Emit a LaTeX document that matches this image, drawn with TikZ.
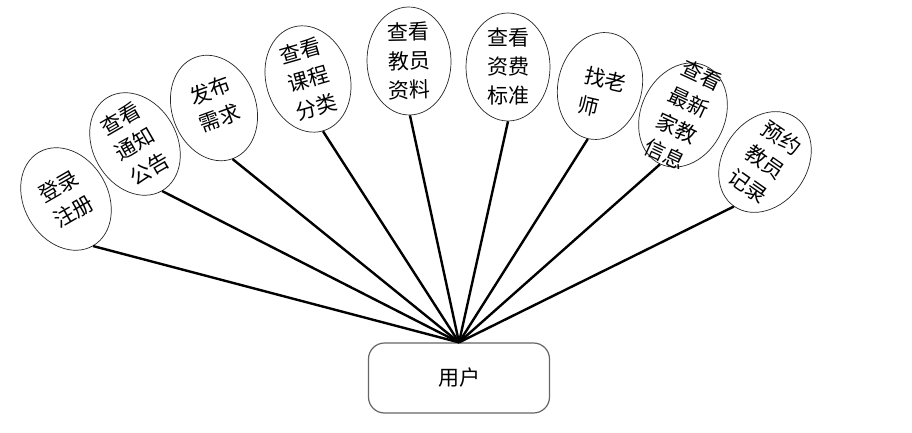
\documentclass[tikz,border=0pt]{standalone}
\usepackage{fontspec}
\newfontfamily\cjk{Noto Sans CJK SC}
\usetikzlibrary{shapes.geometric}
\begin{document}
\begin{tikzpicture}[x=1pt,y=-1pt,
  ell/.style={draw=black!85, line width=0.7pt, ellipse, minimum width=84pt, minimum height=108pt, inner sep=0pt},
  lbl/.style={font=\cjk\fontsize{21}{29}\selectfont, align=center, inner sep=0pt},
  conn/.style={line width=2.4pt, black},
  userbox/.style={draw=black!60, line width=1.2pt, rounded corners=16pt, minimum width=181pt, minimum height=70pt, font=\cjk\fontsize{21}{24}\selectfont}]
\useasboundingbox[fill=white] (0,0) rectangle (912,433);
% ellipses
\node[ell, rotate=30]  (e1) at (66,199) {};
\node[ell, rotate=30]  (e2) at (135,144) {};
\node[ell, rotate=20]  (e3) at (214,108) {};
\node[ell, rotate=16]  (e4) at (308,79) {};
\node[ell, rotate=1]   (e5) at (409,61) {};
\node[ell, rotate=0]   (e6) at (508,67) {};
\node[ell, rotate=-13] (e7) at (600,86) {};
\node[ell, rotate=-25] (e8) at (683,115) {};
\node[ell, rotate=-35] (e9) at (765,162) {};
% user box
\node[userbox] (user) at (459,378) {用户};
\coordinate (hub) at (user.north);
% connectors
\foreach \i in {1,...,9} { \draw[conn] (hub) -- (e\i.south); }
% labels
\node[lbl, rotate=30]  (t1) at (e1) {登录\\注册};
\node[lbl, rotate=30]  (t2) at (e2) {查看\\通知\\公告};
\node[lbl, rotate=20]  (t3) at ([xshift=1pt,yshift=4pt]e3) {发布\\需求};
\node[lbl, rotate=16]  (t4) at (e4) {查看\\课程\\分类};
\node[lbl, rotate=1]   (t5) at (e5) {查看\\教员\\资料};
\node[lbl, rotate=0]   (t6) at (e6) {查看\\资费\\标准};
\node[lbl, rotate=-13, align=left] (t7) at ([xshift=2pt,yshift=-8pt]e7) {找老\\师};
\node[lbl, rotate=-25] (t8) at (e8) {查看\\最新\\家教\\信息};
\node[lbl, rotate=-35] (t9) at (e9) {预约\\教员\\记录};
\end{tikzpicture}
\end{document}
